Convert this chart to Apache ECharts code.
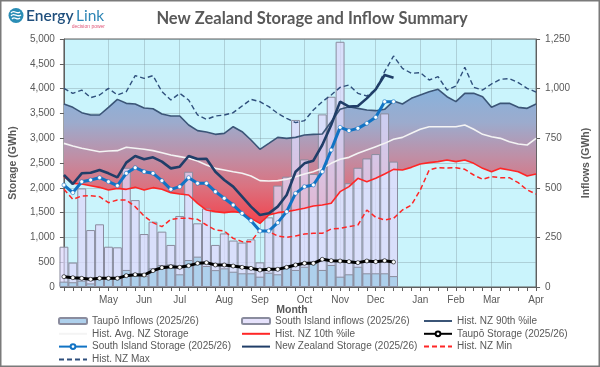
<!DOCTYPE html>
<html>
<head>
<meta charset="utf-8">
<script src="https://cdn.jsdelivr.net/npm/echarts@6/dist/echarts.min.js"></script>
<style>
html,body{margin:0;padding:0;background:#fff;}
#chart{width:600px;height:367px;}
</style>
</head>
<body>
<div id="chart"></div>
<script>
// ---- tick labels ----
const monthNames = ['May','Jun','Jul','Aug','Sep','Oct','Nov','Dec','Jan','Feb','Mar','Apr'];
const monthWeekIdx = [5,9,13,18,22,27,31,35,40,44,48,53];
const weekCount = 54;

// ---- historical storage (GWh), weekly ----
const hist90 = [3689,3622,3515,3468,3468,3622,3783,3703,3689,3609,3595,3488,3447,3447,3266,3152,3125,3078,3098,3232,3131,2964,2776,2896,3017,2997,3017,3064,3078,3085,3333,3582,3636,3602,3568,3555,3582,3750,3689,3803,3871,3938,3985,3837,3737,3904,3904,3837,3622,3703,3703,3622,3602,3689];
const histAvg = [2896,2843,2796,2762,2728,2742,2749,2816,2796,2776,2749,2708,2661,2628,2594,2540,2460,2392,2359,2325,2292,2238,2144,2137,2144,2171,2224,2278,2325,2392,2493,2574,2614,2695,2762,2829,2896,2977,3017,3098,3179,3232,3232,3232,3232,3266,3179,3078,3031,2997,2930,2883,2863,2997];
const hist10 = [2224,2090,2076,2043,2009,1956,1989,1969,2009,1956,2003,1969,1902,1875,1855,1687,1552,1519,1499,1519,1499,1384,1283,1452,1499,1519,1552,1586,1633,1653,1687,1922,2023,2191,2123,2191,2278,2372,2359,2412,2480,2507,2527,2560,2527,2560,2493,2392,2325,2392,2359,2325,2238,2278];
const histMin = [1969,1767,1835,1841,1821,1700,1754,1754,1620,1431,1297,1216,1364,1384,1384,1364,1250,1149,1129,981,914,914,1149,1116,1028,1001,1028,1068,1082,1082,1169,1183,1216,1250,1552,1405,1351,1384,1552,1653,1956,2359,2406,2399,2406,2372,2258,2171,2224,2204,2204,2103,1956,1875];
const histMax = [4005,3904,3971,3817,3871,4005,3871,3938,4261,4207,4261,3938,3770,3904,3770,3468,3380,3447,3468,3515,3649,3783,3737,3636,3501,3400,3313,3353,3568,3737,3871,4025,4072,3904,3851,3985,4341,4657,4409,4308,4321,4173,4241,3971,4052,4429,4025,3971,4093,4187,4200,4120,4005,3930];

// ---- 2025/26 storage (GWh) ----
const nzStorage = [2258,2076,2292,2305,2359,2292,2211,2507,2641,2574,2614,2527,2392,2426,2641,2580,2587,2325,2157,2023,1821,1620,1452,1485,1620,1855,2325,2493,2547,2863,3266,3737,3636,3649,3803,3985,4274,4220];
const siStorage = [2056,1902,2123,2157,2204,2123,2043,2292,2406,2325,2292,2144,1969,2023,2204,2090,2090,1922,1788,1653,1485,1337,1129,1129,1297,1519,1888,2023,2056,2325,2762,3219,3152,3199,3300,3421,3737,3737];
const taupoStorage = [208,188,175,155,175,175,175,229,249,242,329,390,410,397,430,477,491,444,444,423,397,376,343,356,356,397,444,477,477,558,531,524,511,491,524,511,531,504];

// ---- 2025/26 inflows (GWh) ----
const siInflows = [203,123,497,287,316,203,200,601,438,267,329,279,212,358,581,321,396,212,270,234,224,240,124,351,511,556,842,643,570,870,959,1236,523,601,648,670,875,632];
const taupoInflows = [27,24,32,18,49,49,44,86,60,55,94,111,114,64,136,153,106,85,94,77,69,69,52,72,64,99,86,102,128,86,111,52,64,102,69,69,69,55];

const categories = Array.from({length: weekCount}, (_, i) => 'w' + i);
const bandWidth = hist90.map((v, i) => v - hist10[i]);
const isMonth = (i) => monthWeekIdx.indexOf(i) >= 0;

const gray = '#595959';
const lblFont = '"Liberation Sans", Arial, sans-serif';
const legFont = '"Liberation Sans Narrow", "Liberation Sans", Arial, sans-serif';

const chart = echarts.init(document.getElementById('chart'), null, {renderer: 'canvas'});

const legendBase = {
  orient: 'vertical', top: 315, padding: 0, itemGap: 0.8,
  itemWidth: 28, itemHeight: 6,
  textStyle: {fontFamily: legFont, fontSize: 10, color: gray, lineHeight: 12}
};
const plain = (name) => ({name: name, itemStyle: {opacity: 0}});

const option = {
  animation: false,
  backgroundColor: '#ffffff',
  grid: {left: 55, right: 55, top: 39, bottom: 80, show: true, backgroundColor: '#caf4fc', borderColor: '#5f5f5f', borderWidth: 1},
  legend: [
    Object.assign({}, legendBase, {left: 58, data: ['Taupō Inflows (2025/26)', plain('Hist. Avg. NZ Storage'), 'South Island Storage (2025/26)', plain('Hist. NZ Max')]}),
    Object.assign({}, legendBase, {left: 241, data: ['South Island inflows (2025/26)', plain('Hist. NZ 10th %ile'), plain('New Zealand Storage (2025/26)')]}),
    Object.assign({}, legendBase, {left: 423, data: [plain('Hist. NZ 90th %ile'), 'Taupō Storage (2025/26)', plain('Hist. NZ Min')]})
  ],
  xAxis: {
    type: 'category', data: categories, boundaryGap: false,
    axisLine: {lineStyle: {color: '#5f5f5f'}},
    axisTick: {show: true, interval: 0, length: 4, lineStyle: {color: '#5f5f5f'}},
    axisLabel: {
      interval: (i) => isMonth(i), margin: 8,
      formatter: (v, i) => { const k = monthWeekIdx.indexOf(i); return k >= 0 ? monthNames[k] : ''; },
      fontFamily: lblFont, fontSize: 10, color: gray, showMaxLabel: true
    },
    splitLine: {show: true, interval: (i) => isMonth(i), lineStyle: {color: 'rgba(120,140,150,0.35)', width: 1}}
  },
  yAxis: [
    {
      type: 'value', min: 0, max: 5000, interval: 500,
      name: 'Storage (GWh)', nameLocation: 'middle', nameGap: 36, nameRotate: 90,
      nameTextStyle: {fontFamily: lblFont, fontSize: 10.5, fontWeight: 'bold', color: gray},
      axisLine: {show: true, lineStyle: {color: '#5f5f5f'}},
      axisTick: {show: true, length: 4, lineStyle: {color: '#5f5f5f'}},
      axisLabel: {margin: 9, fontFamily: lblFont, fontSize: 10, color: gray, formatter: (v) => v.toLocaleString('en-US')},
      splitLine: {show: true, lineStyle: {color: 'rgba(120,140,150,0.35)', width: 1}}
    },
    {
      type: 'value', min: 0, max: 1250, interval: 250, position: 'right',
      name: 'Inflows (GWh)', nameLocation: 'middle', nameGap: 37, nameRotate: 90,
      nameTextStyle: {fontFamily: lblFont, fontSize: 10.5, fontWeight: 'bold', color: gray},
      axisLine: {show: true, lineStyle: {color: '#5f5f5f'}},
      axisTick: {show: true, length: 4, lineStyle: {color: '#5f5f5f'}},
      axisLabel: {margin: 9, fontFamily: lblFont, fontSize: 10, color: gray, formatter: (v) => v.toLocaleString('en-US')},
      splitLine: {show: false}
    }
  ],
  series: [
    {name: 'bandBase', type: 'line', stack: 'band', data: hist10, symbol: 'none', lineStyle: {opacity: 0}, silent: true, z: 1},
    {name: 'band', type: 'line', stack: 'band', data: bandWidth, symbol: 'none', lineStyle: {opacity: 0}, silent: true, z: 1,
      areaStyle: {opacity: 1, color: new echarts.graphic.LinearGradient(0, 0, 0, 1, [
        {offset: 0, color: '#88b2dc'}, {offset: 0.25, color: '#9cabcd'}, {offset: 0.5, color: '#bf8fa6'},
        {offset: 0.72, color: '#da7381'}, {offset: 1, color: '#f2434d'}])}},
    {name: 'South Island inflows (2025/26)', type: 'bar', yAxisIndex: 1, data: siInflows, barCategoryGap: '0%', barGap: '-100%', z: 2,
      itemStyle: {color: 'rgba(222,216,251,0.75)', borderColor: '#8a8c9e', borderWidth: 1}},
    {name: 'Taupō Inflows (2025/26)', type: 'bar', yAxisIndex: 1, data: taupoInflows, barCategoryGap: '0%', barGap: '-100%', z: 2,
      itemStyle: {color: '#aed0ec', borderColor: '#8a8c9e', borderWidth: 1}},
    {name: 'Hist. NZ 90th %ile', type: 'line', data: hist90, symbol: 'none', z: 3, lineStyle: {color: '#3b5577', width: 1.6}, itemStyle: {color: '#3b5577'}},
    {name: 'Hist. Avg. NZ Storage', type: 'line', data: histAvg, symbol: 'none', z: 3, lineStyle: {color: '#f4f4f4', width: 1.6}, itemStyle: {color: '#f4f4f4'}},
    {name: 'Hist. NZ 10th %ile', type: 'line', data: hist10, symbol: 'none', z: 3, lineStyle: {color: '#ff2626', width: 1.6}, itemStyle: {color: '#ff2626'}},
    {name: 'Hist. NZ Min', type: 'line', data: histMin, symbol: 'none', z: 3, lineStyle: {color: '#ff2626', width: 1.5, type: [5, 3]}, itemStyle: {color: '#ff2626'}},
    {name: 'Hist. NZ Max', type: 'line', data: histMax, symbol: 'none', z: 3, lineStyle: {color: '#2f4f7c', width: 1.4, type: [5, 3]}, itemStyle: {color: '#2f4f7c'}},
    {name: 'Taupō Storage (2025/26)', type: 'line', data: taupoStorage, symbol: 'circle', symbolSize: 4, z: 4,
      lineStyle: {color: '#000000', width: 3}, itemStyle: {color: '#ffffff', borderColor: '#000000', borderWidth: 0.6}},
    {name: 'New Zealand Storage (2025/26)', type: 'line', data: nzStorage, symbol: 'none', z: 4, lineStyle: {color: '#203e68', width: 2.6}, itemStyle: {color: '#203e68'}},
    {name: 'South Island Storage (2025/26)', type: 'line', data: siStorage, symbol: 'circle', symbolSize: 4, z: 4,
      lineStyle: {color: '#1173c4', width: 3}, itemStyle: {color: '#ffffff', borderColor: '#1173c4', borderWidth: 0.6}}
  ],
  graphic: [
    {type: 'rect', shape: {x: 0.5, y: 0.5, width: 599, height: 366}, style: {fill: 'none', stroke: '#7a7a7a', lineWidth: 2}, silent: true, z: 100},
    {type: 'circle', shape: {cx: 16, cy: 15.5, r: 7.5}, style: {fill: '#2a8db5'}, z: 100},
    {type: 'bezierCurve', shape: {x1: 11, y1: 13, x2: 20, y2: 12, cpx1: 14, cpy1: 9, cpx2: 17, cpy2: 15}, style: {stroke: '#fff', lineWidth: 1.3, fill: 'none'}, z: 101},
    {type: 'bezierCurve', shape: {x1: 11, y1: 16, x2: 21, y2: 15, cpx1: 14, cpy1: 12, cpx2: 17, cpy2: 18}, style: {stroke: '#fff', lineWidth: 1.3, fill: 'none'}, z: 101},
    {type: 'bezierCurve', shape: {x1: 12, y1: 19, x2: 20, y2: 18, cpx1: 14.5, cpy1: 15.5, cpx2: 17, cpy2: 21}, style: {stroke: '#fff', lineWidth: 1.3, fill: 'none'}, z: 101},
    {type: 'text', x: 26, y: 16, style: {text: 'Energy', font: '600 15.5px Lato, "Liberation Sans", sans-serif', fill: '#1f4f7d', textVerticalAlign: 'middle'}, z: 100},
    {type: 'text', x: 76, y: 16, style: {text: 'Link', font: '15.5px Lato, "Liberation Sans", sans-serif', fill: '#2f86b6', textVerticalAlign: 'middle'}, z: 100},
    {type: 'text', x: 105, y: 26.5, style: {text: 'decision power', font: '5px "Liberation Sans", sans-serif', fill: '#e0587a', textAlign: 'right', textVerticalAlign: 'middle'}, z: 100},
    {type: 'text', x: 312, y: 19, style: {text: 'New Zealand Storage and Inflow Summary', font: 'bold 16.5px Lato, "Liberation Sans", sans-serif', fill: '#595959', textAlign: 'center', textVerticalAlign: 'middle'}, z: 100},
    {type: 'text', x: 292, y: 310, style: {text: 'Month', font: 'bold 10.5px "Liberation Sans", sans-serif', fill: '#595959', textAlign: 'center', textVerticalAlign: 'middle'}, z: 100}
  ]
};
chart.setOption(option);
</script>
</body>
</html>
